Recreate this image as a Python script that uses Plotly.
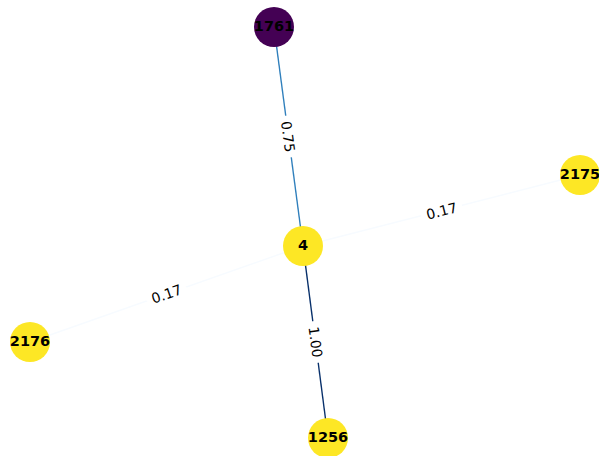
import math
import plotly.graph_objects as go
from plotly.colors import sample_colorscale
import plotly.express as px

# Nodes (positions, in picture pixels, y downward)
node_ids = ["4", "1761", "2175", "2176", "1256"]
node_x = [303, 274, 580, 30, 328]
node_y = [246, 27, 175, 342, 438]
node_value = [1, 0, 1, 1, 1]  # 0 -> purple, 1 -> yellow (viridis ends)

# Edges
edge_src = ["1761", "4", "4", "2176"]
edge_dst = ["4", "2175", "1256", "4"]
edge_weight = [0.75, 0.17, 1.00, 0.17]
edge_label = ["0.75", "0.17", "1.00", "0.17"]

W, H = 599, 456
pos = {n: (x, y) for n, x, y in zip(node_ids, node_x, node_y)}

wmin, wmax = min(edge_weight), max(edge_weight)
blues = px.colors.sequential.Blues

fig = go.Figure()
annotations = []
for s, d, w, lab in zip(edge_src, edge_dst, edge_weight, edge_label):
    x0, y0 = pos[s]
    x1, y1 = pos[d]
    t = (w - wmin) / (wmax - wmin) if wmax > wmin else 1.0
    col = sample_colorscale(blues, [t])[0]
    fig.add_trace(go.Scatter(x=[x0, x1], y=[y0, y1], mode="lines",
                             line=dict(color=col, width=1.4),
                             hoverinfo="skip", showlegend=False))
    # angle in screen space (1 unit = 1 px, y down), clockwise positive
    ang = math.degrees(math.atan2(y1 - y0, x1 - x0))
    if ang > 90:
        ang -= 180
    elif ang < -90:
        ang += 180
    annotations.append(dict(x=(x0 + x1) / 2, y=(y0 + y1) / 2, text=lab,
                            showarrow=False, textangle=ang,
                            font=dict(family="DejaVu Sans", size=14, color="black"),
                            bgcolor="white", borderpad=5))

viridis = ["#440154", "#fde725"]
fig.add_trace(go.Scatter(
    x=node_x, y=node_y, mode="markers+text", text=node_ids,
    textposition="middle center", cliponaxis=False,
    textfont=dict(family="DejaVu Sans", size=14.5, color="black", weight="bold"),
    marker=dict(size=40, color=[viridis[v] for v in node_value], line=dict(width=0)),
    hoverinfo="skip", showlegend=False))

fig.update_layout(
    width=W, height=H, margin=dict(l=0, r=0, t=0, b=0),
    paper_bgcolor="white", plot_bgcolor="white",
    xaxis=dict(range=[0, W], visible=False, fixedrange=True),
    yaxis=dict(range=[H, 0], visible=False, fixedrange=True),
    annotations=annotations,
)
fig.write_html("out.html",
               config={"displayModeBar": False, "staticPlot": True},
               post_script="document.body.style.margin='0';document.body.style.overflow='hidden';")
